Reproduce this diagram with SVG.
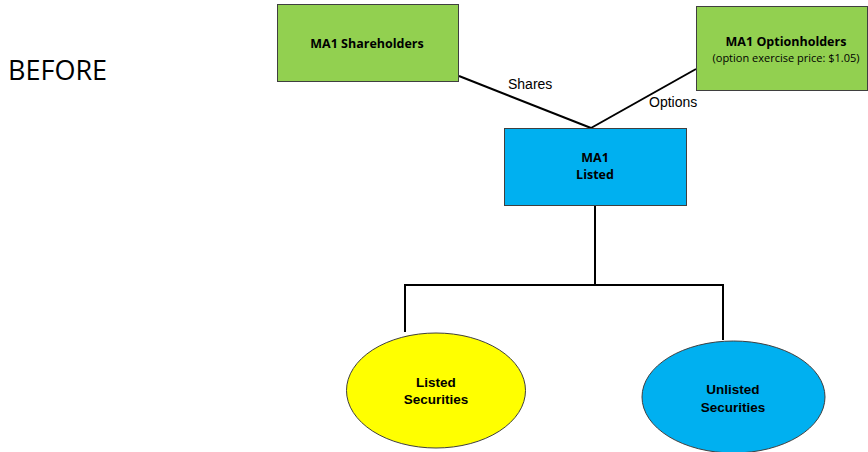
<svg xmlns="http://www.w3.org/2000/svg" width="868" height="452" viewBox="0 0 868 452">
<style>
.box{stroke:#3f3f3f;stroke-width:1}
.green{fill:#92D050}
.blue{fill:#00B0F0}
.yellow{fill:#FFFF00}
.cal{font-family:"Open Sans","Liberation Sans",sans-serif;fill:#000}
.ar{font-family:"Liberation Sans",Arial,sans-serif;fill:#000}
.conn{stroke:#000;stroke-width:2;fill:none}
</style>
<rect width="868" height="452" fill="#fff"/>
<text x="8" y="80" class="cal" font-size="27">BEFORE</text>
<g id="connectors">
<line class="conn" x1="459" y1="76" x2="591" y2="128"/>
<line class="conn" x1="696" y1="69" x2="591" y2="128"/>
<polyline class="conn" points="595,206 595,285"/>
<polyline class="conn" points="405,332 405,285 723,285 723,340"/>
<text x="508" y="89" class="ar" font-size="14">Shares</text>
<text x="649" y="107" class="ar" font-size="14">Options</text>
</g>
<g id="shareholders">
<rect class="box green" x="277.5" y="4.5" width="181" height="77"/>
<text x="367" y="48" class="cal" font-size="12.5" font-weight="bold" text-anchor="middle">MA1 Shareholders</text>
</g>
<g id="optionholders">
<rect class="box green" x="696.5" y="6.5" width="171" height="84"/>
<text x="786" y="46" class="cal" font-size="12.5" font-weight="bold" text-anchor="middle">MA1 Optionholders</text>
<text x="786" y="62" class="cal" font-size="11" text-anchor="middle">(option exercise price: $1.05)</text>
</g>
<g id="listed">
<rect class="box blue" x="504.5" y="128.5" width="182" height="77"/>
<text x="595" y="162" class="cal" font-size="12.5" font-weight="bold" text-anchor="middle">MA1</text>
<text x="595" y="179" class="cal" font-size="12.5" font-weight="bold" text-anchor="middle">Listed</text>
</g>
<g id="listed-securities">
<ellipse class="box yellow" cx="436" cy="390.5" rx="89.5" ry="57.5"/>
<text x="436" y="387" class="ar" font-size="13.5" font-weight="bold" text-anchor="middle">Listed</text>
<text x="436" y="404" class="ar" font-size="13.5" font-weight="bold" text-anchor="middle">Securities</text>
</g>
<g id="unlisted-securities">
<ellipse class="box blue" cx="733.5" cy="397" rx="91.5" ry="56"/>
<text x="733" y="394" class="ar" font-size="13.5" font-weight="bold" text-anchor="middle">Unlisted</text>
<text x="733" y="412" class="ar" font-size="13.5" font-weight="bold" text-anchor="middle">Securities</text>
</g>
</svg>
